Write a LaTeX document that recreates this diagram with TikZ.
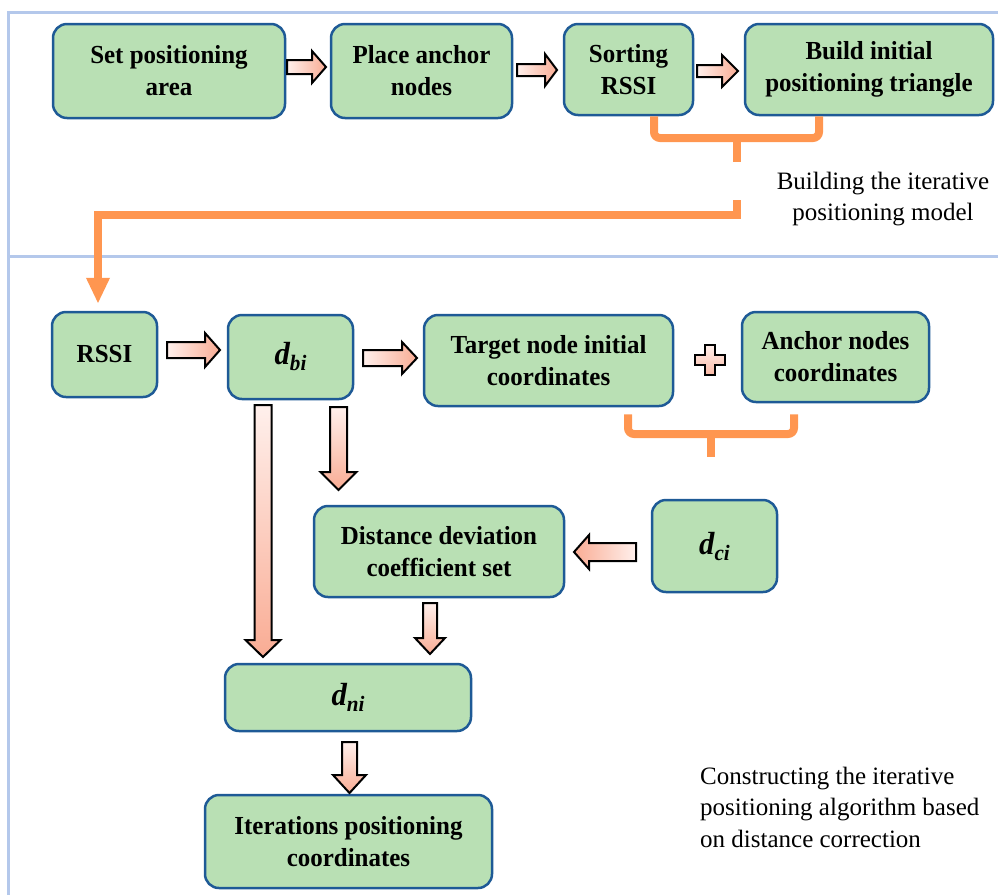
\documentclass[tikz,border=0pt]{standalone}
\usepackage{fontspec}
\setmainfont{Liberation Serif}
\newfontfamily\boxfont{Liberation Serif}[FakeStretch=0.96]
\usetikzlibrary{arrows.meta,calc}
\definecolor{boxfill}{RGB}{185,224,180}
\definecolor{boxline}{RGB}{30,90,150}
\definecolor{panel}{RGB}{180,200,235}
\definecolor{orng}{RGB}{255,150,80}
\definecolor{aLight}{RGB}{255,240,236}
\definecolor{aDark}{RGB}{249,172,148}
\newcommand\dsub[1]{{\fontsize{32}{32}\selectfont\bfseries\itshape d}\raisebox{-6pt}{\fontsize{22}{22}\selectfont\bfseries\itshape #1}}
\newcommand\bx[6]{\node[box, minimum width={#4-#2}, minimum height={#5-#3}] (#1) at ({(#2+#4)/2},{(#3+#5)/2}) {#6};}
\newcommand\arrH[7]{\shade[blk,#7] (#1,#4-#5) -- (#2,#4-#5) -- (#2,#4-#6) -- (#3,#4) -- (#2,#4+#6) -- (#2,#4+#5) -- (#1,#4+#5) -- cycle;}
\newcommand\arrV[7]{\shade[blk,#7] (#4-#5,#1) -- (#4-#5,#2) -- (#4-#6,#2) -- (#4,#3) -- (#4+#6,#2) -- (#4+#5,#2) -- (#4+#5,#1) -- cycle;}
\tikzset{
  box/.style={draw=boxline, line width=2.5pt, fill=boxfill, rounded corners=14pt, align=center, inner sep=2pt, font=\boxfont\bfseries\fontsize{26}{32}\selectfont},
  blk/.style={draw=black, line width=2pt, line join=miter},
  right shade/.style={left color=aLight, right color=aDark},
  left shade/.style={left color=aDark, right color=aLight},
  down shade/.style={top color=aLight, bottom color=aDark},
  orangeline/.style={draw=orng, line width=8pt},
  panelline/.style={draw=panel, line width=3pt},
  lbl/.style={font=\fontsize{25}{31.5}\selectfont, inner sep=0pt}
}
\begin{document}
\begin{tikzpicture}[x=1pt,y=-1pt]
\useasboundingbox (0,0) rectangle (998,895);
% panel lines
\draw[panelline] (998,12) -- (8,12) -- (8,895);
\draw[panelline] (8,256) -- (998,256);
% top row boxes
\bx{s1}{53}{24}{285}{118}{Set positioning\\area}
\bx{s2}{331}{24}{512}{118}{Place anchor\\nodes}
\bx{s3}{564}{24}{693}{115}{Sorting\\RSSI}
\bx{s4}{745}{24}{993}{115}{Build initial\\positioning triangle}
% top row arrows
\arrH{287}{312}{326}{67}{7}{16}{right shade}
\arrH{517}{545}{557}{70}{6}{16}{right shade}
\arrH{697}{722}{738}{71}{6}{16}{right shade}
% top bracket
\coordinate (j1) at (737,138);
\coordinate (j2) at (737,200);
\draw[orangeline, rounded corners=6pt] ([xshift=25.5pt]s3.south) |- (j1) -| ([xshift=-50pt]s4.south);
\draw[orangeline] (j1) -- ++(0,24);
\node[lbl, align=center] (lab1) at (883,199) {Building the iterative\\positioning model};
% lower boxes
\bx{rssi}{52}{312}{157}{397}{RSSI}
\bx{dbi}{228}{315}{353}{399}{\dsub{bi}}
\bx{tgt}{424}{315}{673}{406}{Target node initial\\coordinates}
\bx{anc}{742}{312}{929}{402}{Anchor nodes\\coordinates}
\bx{dci}{652}{500}{777}{592}{\dsub{ci}}
\bx{ddc}{314}{506}{564}{597}{Distance deviation\\coefficient set}
\bx{dni}{225}{664}{471}{731}{\dsub{ni}}
\bx{itr}{205}{795}{492}{888}{Iterations positioning\\coordinates}
% connector into RSSI
\draw[orangeline, -{Triangle[width=22pt,length=26pt]}, shorten >=7pt] (j2) -- ++(0,15) -| ([xshift=-6.5pt]rssi.north);
% lower block arrows
\arrH{167}{205}{220}{350}{8}{17}{right shade}
\arrH{363}{402}{417}{358}{8}{16}{right shade}
\arrH{636}{589}{574}{552}{9}{17}{left shade}
\arrV{405}{640}{657}{263}{8.5}{17.5}{down shade}
\arrV{407}{472}{490}{338.5}{8.5}{18}{down shade}
\arrV{603}{638}{654}{430}{7}{15}{down shade}
\arrV{742}{775}{793}{349.5}{7.5}{16.5}{down shade}
% plus sign
\shade[blk, line width=2pt, top color=aLight, bottom color=aDark!80!aLight] (705,345) -- (715,345) -- (715,355) -- (725,355) -- (725,365) -- (715,365) -- (715,375) -- (705,375) -- (705,365) -- (695,365) -- (695,355) -- (705,355) -- cycle;
% lower bracket
\coordinate (j3) at (711,434);
\draw[orangeline, rounded corners=6pt] ([xshift=79.5pt,yshift=-7pt]tgt.south) |- (j3) -| ([xshift=-41.5pt,yshift=-11pt]anc.south);
\draw[orangeline] (j3) -- ++(0,23);
\node[lbl, align=left, anchor=west] (lab2) at (700,807) {Constructing the iterative\\positioning algorithm based\\on distance correction};
\end{tikzpicture}
\end{document}
